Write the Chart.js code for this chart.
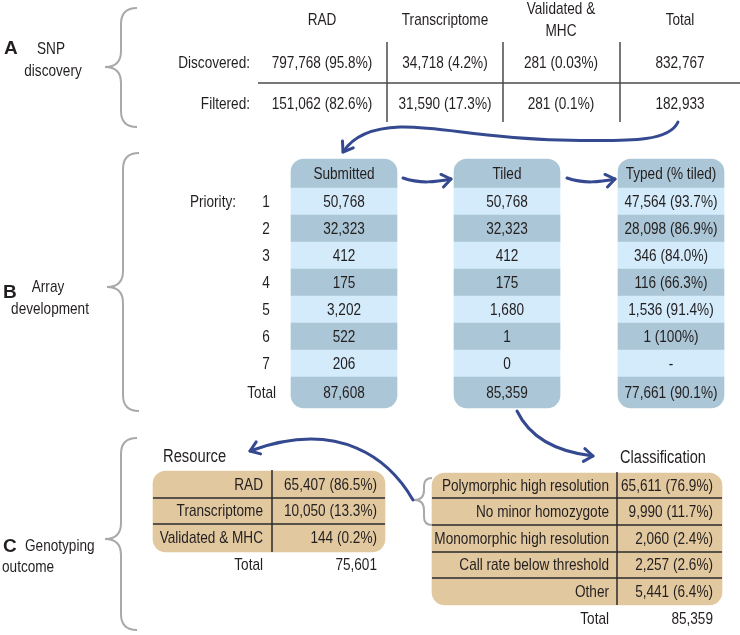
<!DOCTYPE html>
<html>
<head>
<meta charset="utf-8">
<script src="https://cdn.jsdelivr.net/npm/chart.js@4.4.1/dist/chart.umd.min.js"></script>
<style>
  body { margin: 0; background: #fff; }
  #wrap { width: 740px; height: 635px; }
</style>
</head>
<body>
<div id="wrap"><canvas id="fig"></canvas></div>
<script>
// A - SNP discovery
const sourceHeads = [['RAD'], ['Transcriptome'], ['Validated &', 'MHC'], ['Total']];
const snpRowLabels = ['Discovered:', 'Filtered:'];
const discovered = [797768, 34718, 281, 832767];
const discoveredPct = ['95.8', '4.2', '0.03', null];
const filtered = [151062, 31590, 281, 182933];
const filteredPct = ['82.6', '17.3', '0.1', null];

// B - Array development
const arrayHeads = ['Submitted', 'Tiled', 'Typed (% tiled)'];
const priorities = ['1', '2', '3', '4', '5', '6', '7', 'Total'];
const submitted = [50768, 32323, 412, 175, 3202, 522, 206, 87608];
const tiled = [50768, 32323, 412, 175, 1680, 1, 0, 85359];
const typed = [47564, 28098, 346, 116, 1536, 1, null, 77661];
const typedPct = ['93.7', '86.9', '84.0', '66.3', '91.4', '100', null, '90.1'];

// C - Genotyping outcome
const resourceLabels = ['RAD', 'Transcriptome', 'Validated & MHC'];
const resourceCounts = [65407, 10050, 144];
const resourcePct = ['86.5', '13.3', '0.2'];
const resourceTotal = 75601;
const classLabels = ['Polymorphic high resolution', 'No minor homozygote', 'Monomorphic high resolution', 'Call rate below threshold', 'Other'];
const classCounts = [65611, 9990, 2060, 2257, 5441];
const classPct = ['76.9', '11.7', '2.4', '2.6', '6.4'];
const classTotal = 85359;

const fmt = n => n.toLocaleString('en-US');
const cell = (n, p) => n === null ? '-' : (p ? `${fmt(n)} (${p}%)` : fmt(n));

// layout (page coordinates, mapped through the scales)
const lay = {
  aCols: [322, 445, 561, 680], aHeadY: 20, aRows: [63, 104], aVLines: [387, 503, 620],
  bCols: [344, 507, 671], bWidth: 106, bHead: [159, 188], bRowH: 27, bTotal: [377, 408],
  res: { cx: 269, w: 232, top: 471, bottom: 552, lines: [498, 524], vx: 272, labelX: 263, valX: 377, rows: [485, 511, 538], totalY: 565 },
  cls: { cx: 577, w: 290, top: 473, bottom: 605, lines: [498, 525, 552, 578], vx: 617, labelX: 609, valX: 713, rows: [486, 512, 539, 565, 592], totalY: 619 }
};

const dark = '#abc6d6', light = '#d3ebfb', tan = '#e1c89f';
const ink = '#231f20', blue = '#34498f', gray = '#a9a9a9';

function bRange(i) {
  if (i === 0) return lay.bHead;
  if (i === 8) return lay.bTotal;
  return [lay.bHead[1] + lay.bRowH * (i - 1), lay.bHead[1] + lay.bRowH * i];
}

const boxDatasets = lay.bCols.map(cx => ({
  data: Array.from({ length: 9 }, (_, i) => ({ x: cx, y: bRange(i) })),
  backgroundColor: Array.from({ length: 9 }, (_, i) => i % 2 === 0 ? dark : light),
  barThickness: lay.bWidth,
  borderSkipped: false,
  borderRadius: c => c.dataIndex === 0 ? { topLeft: 13, topRight: 13, bottomLeft: 0, bottomRight: 0 }
    : c.dataIndex === 8 ? { topLeft: 0, topRight: 0, bottomLeft: 13, bottomRight: 13 } : 0
}));

const tanDatasets = [lay.res, lay.cls].map(t => ({
  data: [{ x: t.cx, y: [t.top, t.bottom] }],
  backgroundColor: tan,
  barThickness: t.w,
  borderSkipped: false,
  borderRadius: 13
}));

function txt(ctx, s, x, y, o = {}) {
  ctx.save();
  ctx.font = `${o.bold ? 'bold ' : ''}${o.size || 17}px "Liberation Sans", Arial, sans-serif`;
  ctx.fillStyle = ink;
  ctx.textBaseline = 'middle';
  ctx.textAlign = o.align || 'center';
  ctx.translate(x, y);
  ctx.scale(o.sx || 0.8, 1);
  ctx.fillText(s, 0, 0);
  ctx.restore();
}

const figure = {
  id: 'figure',
  afterDatasetsDraw(chart) {
    const ctx = chart.ctx;
    const X = v => chart.scales.x.getPixelForValue(v);
    const Y = v => chart.scales.y.getPixelForValue(v);
    const T = (s, x, y, o) => txt(ctx, s, X(x), Y(y), o);
    const line = (x0, y0, x1, y1) => { ctx.beginPath(); ctx.moveTo(X(x0), Y(y0)); ctx.lineTo(X(x1), Y(y1)); ctx.stroke(); };

    // braces
    ctx.save();
    ctx.strokeStyle = gray; ctx.lineWidth = 2;
    const brace = (xl, xm, xr, y0, ym, y1) => {
      const r = xr - xm, k = xm - xl;
      ctx.beginPath();
      ctx.moveTo(X(xr), Y(y0));
      ctx.quadraticCurveTo(X(xm), Y(y0), X(xm), Y(y0 + r));
      ctx.lineTo(X(xm), Y(ym - k));
      ctx.quadraticCurveTo(X(xm), Y(ym), X(xl), Y(ym));
      ctx.quadraticCurveTo(X(xm), Y(ym), X(xm), Y(ym + k));
      ctx.lineTo(X(xm), Y(y1 - r));
      ctx.quadraticCurveTo(X(xm), Y(y1), X(xr), Y(y1));
      ctx.stroke();
    };
    brace(105, 121, 137, 8, 67, 127);
    brace(107, 123, 139, 153, 287, 411);
    brace(105, 121, 137, 438, 539, 630);
    brace(414, 424, 432, 478, 500, 525);
    ctx.restore();

    // section labels
    T('A', 4, 49, { bold: true, size: 19, align: 'left', sx: 1 });
    T('SNP', 51, 49);
    T('discovery', 53, 71);
    T('B', 3, 293, { bold: true, size: 19, align: 'left', sx: 1 });
    T('Array', 48, 287);
    T('development', 50, 309);
    T('C', 3, 547, { bold: true, size: 19, align: 'left', sx: 1 });
    T('Genotyping', 25, 546, { align: 'left' });
    T('outcome', 2, 567, { align: 'left' });

    // A table
    ctx.save();
    ctx.strokeStyle = '#4a4a4a'; ctx.lineWidth = 1.5;
    lay.aVLines.forEach(x => line(x, 42, x, 122));
    line(258, 83, 740, 83);
    ctx.restore();
    sourceHeads.forEach((h, i) => {
      if (h.length === 1) T(h[0], lay.aCols[i], lay.aHeadY);
      else h.forEach((s, j) => T(s, lay.aCols[i], lay.aHeadY - 11 + 22 * j));
    });
    snpRowLabels.forEach((s, r) => T(s, 250, lay.aRows[r], { align: 'right' }));
    discovered.forEach((n, i) => T(cell(n, discoveredPct[i]), lay.aCols[i], lay.aRows[0]));
    filtered.forEach((n, i) => T(cell(n, filteredPct[i]), lay.aCols[i], lay.aRows[1]));

    // B table text
    const bMid = i => { const r = bRange(i); return (r[0] + r[1]) / 2 + 1; };
    arrayHeads.forEach((s, c) => T(s, lay.bCols[c], bMid(0)));
    T('Priority:', 236, bMid(1), { align: 'right' });
    priorities.forEach((p, i) => {
      if (p === 'Total') T(p, 276, bMid(8), { align: 'right' });
      else T(p, 266, bMid(i + 1));
    });
    submitted.forEach((n, i) => T(cell(n), lay.bCols[0], bMid(i + 1)));
    tiled.forEach((n, i) => T(cell(n), lay.bCols[1], bMid(i + 1)));
    typed.forEach((n, i) => T(cell(n, typedPct[i]), lay.bCols[2], bMid(i + 1)));

    // C tables
    ctx.save();
    ctx.strokeStyle = '#2a2a2a'; ctx.lineWidth = 1.5;
    [lay.res, lay.cls].forEach(t => {
      t.lines.forEach(y => line(t.cx - t.w / 2, y, t.cx + t.w / 2, y));
      line(t.vx, t.top - 1, t.vx, t.bottom);
    });
    ctx.restore();
    T('Resource', 163, 457, { size: 18, align: 'left', sx: 0.82 });
    resourceLabels.forEach((s, i) => {
      T(s, lay.res.labelX, lay.res.rows[i], { align: 'right' });
      T(cell(resourceCounts[i], resourcePct[i]), lay.res.valX, lay.res.rows[i], { align: 'right' });
    });
    T('Total', lay.res.labelX, lay.res.totalY, { align: 'right' });
    T(fmt(resourceTotal), lay.res.valX, lay.res.totalY, { align: 'right' });
    T('Classification', 620, 458, { size: 18, align: 'left', sx: 0.81 });
    classLabels.forEach((s, i) => {
      T(s, lay.cls.labelX, lay.cls.rows[i], { align: 'right' });
      T(cell(classCounts[i], classPct[i]), lay.cls.valX, lay.cls.rows[i], { align: 'right' });
    });
    T('Total', lay.cls.labelX, lay.cls.totalY, { align: 'right' });
    T(fmt(classTotal), lay.cls.valX, lay.cls.totalY, { align: 'right' });

    // arrows
    ctx.save();
    ctx.strokeStyle = blue; ctx.lineWidth = 3; ctx.lineCap = 'round'; ctx.lineJoin = 'round';
    const arrow = pts => {
      ctx.beginPath();
      ctx.moveTo(X(pts[0][0]), Y(pts[0][1]));
      for (let i = 1; i < pts.length; i += 3) {
        ctx.bezierCurveTo(X(pts[i][0]), Y(pts[i][1]), X(pts[i + 1][0]), Y(pts[i + 1][1]), X(pts[i + 2][0]), Y(pts[i + 2][1]));
      }
      ctx.stroke();
      const e = pts[pts.length - 1], p = pts[pts.length - 2];
      const a = Math.atan2(Y(e[1]) - Y(p[1]), X(e[0]) - X(p[0]));
      const len = 11, sp = 0.62;
      ctx.beginPath();
      ctx.moveTo(X(e[0]) - len * Math.cos(a - sp), Y(e[1]) - len * Math.sin(a - sp));
      ctx.lineTo(X(e[0]), Y(e[1]));
      ctx.lineTo(X(e[0]) - len * Math.cos(a + sp), Y(e[1]) - len * Math.sin(a + sp));
      ctx.stroke();
    };
    arrow([[678, 122], [670, 140], [640, 142], [560, 140], [480, 138], [440, 126], [400, 127], [370, 128], [352, 138], [343, 152]]);
    arrow([[403, 178], [420, 184], [436, 182], [451, 179]]);
    arrow([[567, 178], [584, 184], [600, 182], [615, 179]]);
    arrow([[517, 411], [530, 438], [558, 452], [593, 456]]);
    arrow([[413, 500], [390, 460], [340, 418], [250, 451]]);
    ctx.restore();
  }
};

new Chart(document.getElementById('fig'), {
  type: 'bar',
  data: { datasets: [...boxDatasets, ...tanDatasets] },
  options: {
    responsive: true,
    maintainAspectRatio: false,
    animation: false,
    events: [],
    layout: { padding: 0 },
    datasets: { bar: { grouped: false, borderWidth: 0 } },
    plugins: { legend: { display: false }, tooltip: { enabled: false } },
    scales: {
      x: { type: 'linear', min: 0, max: 740, offset: false, display: false },
      y: { type: 'linear', min: 0, max: 635, reverse: true, display: false }
    }
  },
  plugins: [figure]
});
</script>
</body>
</html>
